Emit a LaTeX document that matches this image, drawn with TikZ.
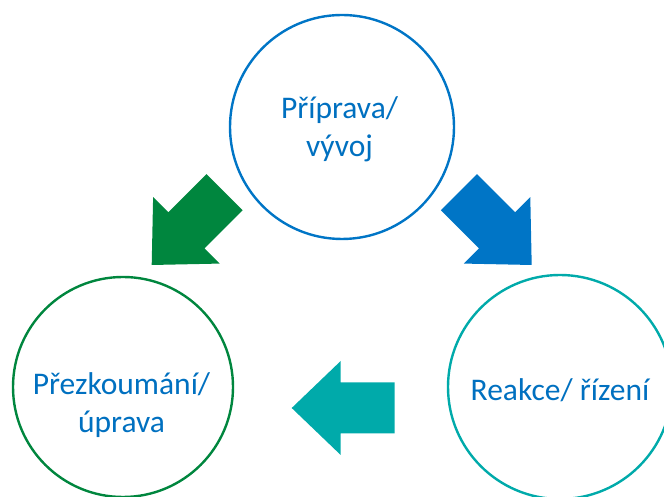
\documentclass[tikz,border=0pt]{standalone}
\usepackage{fontspec}
\setmainfont{Carlito}
\definecolor{ringblue}{RGB}{0,117,198}
\definecolor{ringgreen}{RGB}{0,134,62}
\definecolor{ringteal}{RGB}{0,170,170}
\definecolor{textblue}{RGB}{0,112,192}
\tikzset{
  ring/.style={circle, draw, line width=2.4pt, inner sep=0pt, fill=none},
  ringtext/.style={text=textblue, font=\fontsize{31.5}{38}\selectfont, anchor=base, inner sep=0pt},
  % block arrow pointing along +x, tip at the pic origin
  fatarrow/.pic={
    \fill (0,0) -- (-49,47) -- (-49,25.5) -- (-103,25.5) -- (-103,-25.5)
          -- (-49,-25.5) -- (-49,-47) -- cycle;
  }
}
\begin{document}
\begin{tikzpicture}[x=1pt,y=1pt]
  \useasboundingbox (0,0) rectangle (664,497);
  \clip (0,0) rectangle (664,497);

  % the three stages
  \node[ring, draw=ringblue,  minimum size=224pt] (prep)   at (342,370) {};
  \node[ring, draw=ringgreen, minimum size=220pt] (review) at (123,110) {};
  \node[ring, draw=ringteal,  minimum size=224pt] (react)  at (560,110) {};

  \node[ringtext] (prepA)   at (339.5,378) {Příprava/};
  \node[ringtext] (prepB)   at (339.5,340) {vývoj};
  \node[ringtext] (reviewA) at (121.5,102) {Přezkoumání/};
  \node[ringtext] (reviewB) at (121.5,64)  {úprava};
  \node[ringtext] (reactA)  at (560,96)    {Reakce/ řízení};

  % cycle arrows
  \pic[fill=ringblue,  rotate=315] at (531.7,232) {fatarrow};
  \pic[fill=ringteal,  rotate=180] at (291.7,89)  {fatarrow};
  \pic[fill=ringgreen, rotate=225] at (151.7,232) {fatarrow};
\end{tikzpicture}
\end{document}
